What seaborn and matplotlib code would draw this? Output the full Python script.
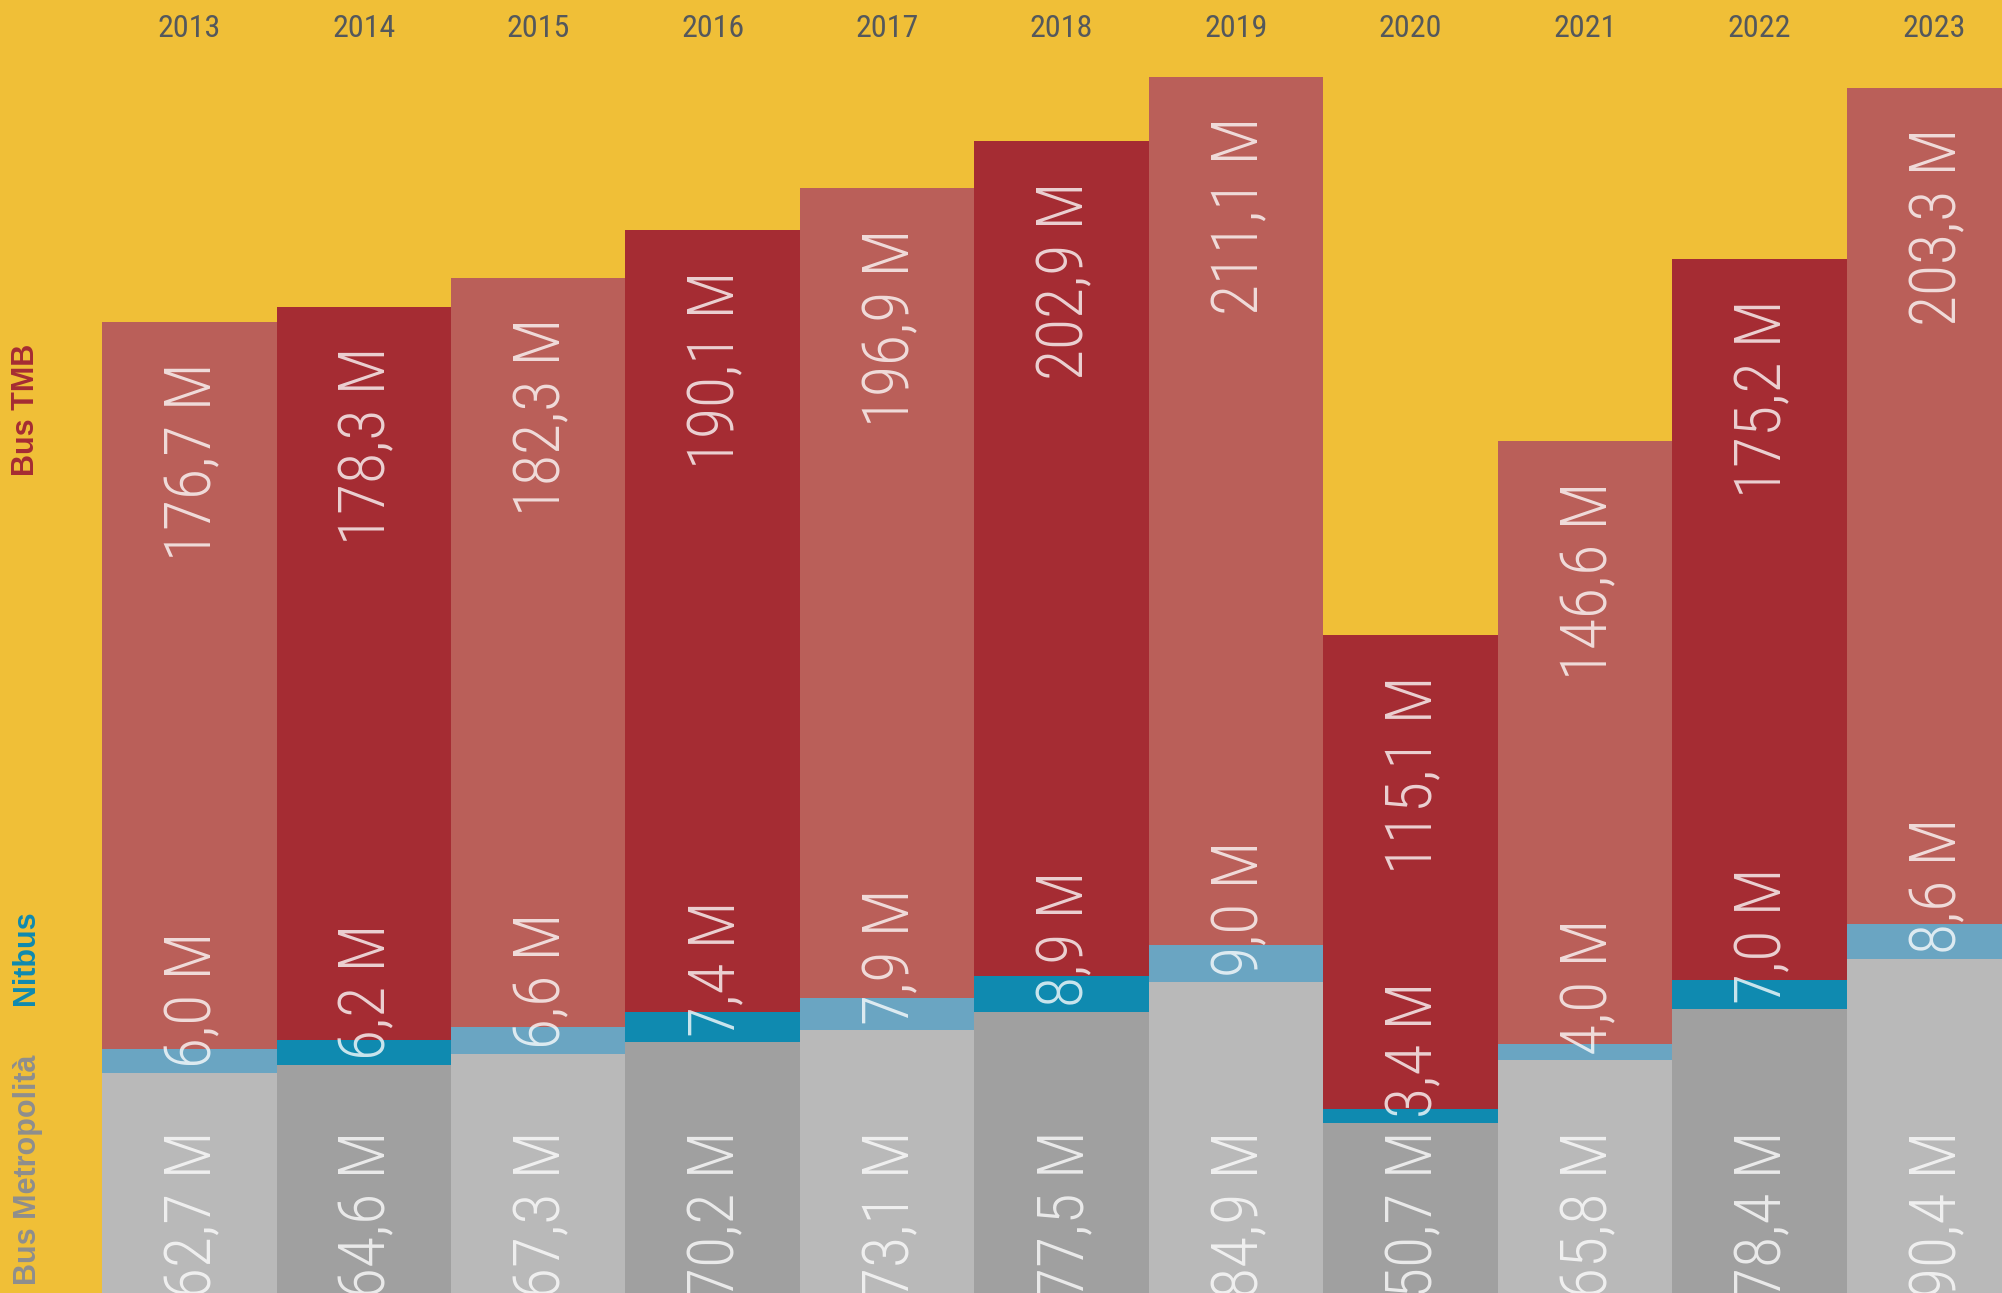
import numpy as np
import pandas as pd
import matplotlib
matplotlib.use('Agg')
import matplotlib.pyplot as plt
import matplotlib.transforms as mtransforms
import seaborn as sns

# passengers per year (millions)
years = ['2013', '2014', '2015', '2016', '2017', '2018', '2019', '2020', '2021', '2022', '2023']
metro = [62.7, 64.6, 67.3, 70.2, 73.1, 77.5, 84.9, 50.7, 65.8, 78.4, 90.4]
nitbus = [6.0, 6.2, 6.6, 7.4, 7.9, 8.9, 9.0, 3.4, 4.0, 7.0, 8.6]
tmb = [176.7, 178.3, 182.3, 190.1, 196.9, 202.9, 211.1, 115.1, 146.6, 175.2, 203.3]

yellow = '#F0BF37'
tmb_pal = ['#BA5F59', '#A52C33']
nit_pal = ['#6AA5C2', '#0F8AB0']
met_pal = ['#B9B9B9', '#A0A0A0']

sns.set_style('white')
plt.rcParams['font.family'] = ['Roboto Condensed', 'Liberation Sans Narrow', 'Roboto', 'DejaVu Sans']

df = pd.DataFrame({'year': years, 'metro': metro, 'nitbus': nitbus, 'tmb': tmb})
df['mid'] = df['metro'] + df['nitbus']
df['total'] = df['mid'] + df['tmb']

fig = plt.figure(figsize=(20.02, 12.93), dpi=100, facecolor=yellow)
ax = fig.add_axes([0, 0, 1, 1])

# stacked bars drawn as overlapping cumulative totals
for col, pal in [('total', tmb_pal), ('mid', nit_pal), ('metro', met_pal)]:
    cols = [pal[i % 2] for i in range(len(years))]
    sns.barplot(data=df, x='year', y=col, hue='year', palette=cols, order=years,
                width=1, linewidth=0, errorbar=None, legend=False, saturation=1, ax=ax)

ax.set_xlim(-1.085, 10.39)
ax.set_ylim(9.24, 323.7)
ax.axis('off')

def fmt(v):
    return f'{v:.1f}'.replace('.', ',') + ' M'

lab = dict(rotation=90, rotation_mode='anchor', va='center', fontsize=46, fontweight='light',
           color='white', alpha=0.78, textcoords='offset pixels', annotation_clip=False)
for i, r in df.iterrows():
    ax.annotate(fmt(r['tmb']), xy=(i, r['total']), xytext=(4, -40), ha='right', **lab)
    ax.annotate(fmt(r['nitbus']), xy=(i, r['metro']), xytext=(4, 5), ha='left', **lab)
    ax.annotate(fmt(r['metro']), xy=(i, 0), xytext=(4, 33), ha='left', **lab)

trans = mtransforms.blended_transform_factory(ax.transData, ax.transAxes)
for i, y in enumerate(years):
    ax.text(i, 0.9776, y, transform=trans, ha='center', va='center', fontsize=23, color='#54585C')

side = ['Liberation Sans', 'DejaVu Sans']
fig.text(26/2002, 1-410/1293, 'Bus TMB', rotation=90, ha='center', va='center',
         fontsize=22, fontweight='bold', color='#A52C33', family=side)
fig.text(26/2002, 1-958/1293, 'Nitbus', rotation=90, ha='center', va='center',
         fontsize=22, fontweight='bold', color='#0F8AB0', family=side)
fig.text(28/2002, 1-1170/1293, 'Bus Metropolità', rotation=90, ha='center', va='center',
         fontsize=22, fontweight='bold', color='#8E8E8E', family=side)

fig.savefig('out.png', dpi=100, facecolor=yellow)
